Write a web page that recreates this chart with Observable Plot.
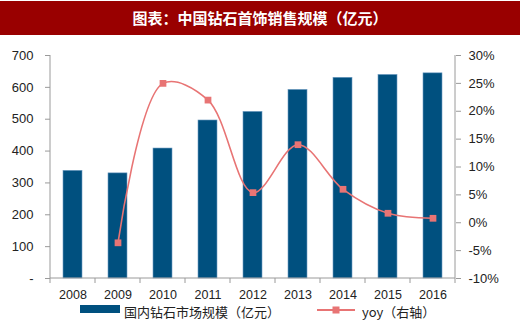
<!DOCTYPE html>
<html>
<head>
<meta charset="utf-8">
<script src="https://cdn.jsdelivr.net/npm/d3@7"></script>
<script src="https://cdn.jsdelivr.net/npm/@observablehq/plot@0.6"></script>
<style>
  html, body { margin: 0; padding: 0; background: #fff; }
  #wrap { position: relative; width: 520px; height: 325px; overflow: hidden; font-family: "Liberation Sans", Arial, sans-serif; }
  #title { position: absolute; left: 0; top: 1px; width: 520px; height: 34px; background: #990000; color: #fff;
           font-family: "Noto Sans CJK SC", sans-serif; font-weight: 700; font-size: 15px; line-height: 34px; text-align: center; }
  #chart { position: absolute; left: 0; top: 36px; }
  .leg { position: absolute; font-family: "Noto Sans CJK SC", sans-serif; font-size: 13px; color: #222; line-height: 14px; }
</style>
</head>
<body>
<div id="wrap">
  <div id="title">图表：中国钻石首饰销售规模（亿元）</div>
  <div id="chart"></div>
  <div id="legend"></div>
</div>
<script>
// ---- data ----
const years = ["2008","2009","2010","2011","2012","2013","2014","2015","2016"];
const marketSize = [338, 330, 408, 496, 523, 592, 630, 639, 644];
const yoyYears = ["2009","2010","2011","2012","2013","2014","2015","2016"];
const yoyValues = [-3.6, 25.0, 22.0, 5.4, 14.0, 6.0, 1.7, 0.8];
const leftTicks = [0, 100, 200, 300, 400, 500, 600, 700];
const rightTicks = [-10, -5, 0, 5, 10, 15, 20, 25, 30];
const seriesNames = ["国内钻石市场规模（亿元）", "yoy（右轴）"];

// ---- styles ----
const BAR = "#00507f";
const LINE = "#e87474";
const AXIS = "#9a9a9a";
const TEXT = "#222";

const leftMax = 700, rMin = -10, rMax = 30;
const toLeft = p => (p - rMin) / (rMax - rMin) * leftMax;

const bars = years.map((y, i) => ({year: y, value: marketSize[i]}));
const yoy = yoyYears.map((y, i) => ({year: y, value: yoyValues[i]}));

function axisFrame(index, scales, values, dimensions) {
  const {width, height, marginLeft, marginRight, marginTop, marginBottom} = dimensions;
  const x0 = marginLeft, x1 = width - marginRight, y0 = marginTop, y1 = height - marginBottom;
  const g = d3.create("svg:g").attr("stroke", AXIS).attr("stroke-width", 1).attr("fill", "none");
  g.append("line").attr("x1", x0).attr("x2", x0).attr("y1", y0).attr("y2", y1);
  g.append("line").attr("x1", x1).attr("x2", x1).attr("y1", y0).attr("y2", y1);
  g.append("line").attr("x1", x0).attr("x2", x1).attr("y1", y1).attr("y2", y1);
  const step = (x1 - x0) / years.length;
  d3.range(years.length + 1).forEach(i => {
    const xx = x0 + i * step;
    g.append("line").attr("x1", xx).attr("x2", xx).attr("y1", y1).attr("y2", y1 + 5);
  });
  return g.node();
}

const chart = Plot.plot({
  width: 520,
  height: 268,
  marginLeft: 50,
  marginRight: 65,
  marginTop: 19,
  marginBottom: 26,
  style: {fontFamily: "'Liberation Sans', Arial, sans-serif", fontSize: "13px", color: TEXT, background: "transparent"},
  x: {domain: years, paddingInner: 0.57, paddingOuter: 0.285, axis: null, label: null},
  y: {domain: [0, leftMax], axis: null, label: null},
  marks: [
    Plot.barY(bars, {x: "year", y: "value", fill: BAR, stroke: "#6f9cc2", strokeWidth: 0.6}),
    Plot.line(yoy, {x: "year", y: d => toLeft(d.value), curve: "catmull-rom", stroke: LINE, strokeWidth: 1.6}),
    Plot.dot(yoy, {x: "year", y: d => toLeft(d.value), symbol: "square", r: 3.8, fill: LINE, stroke: "none"}),
    axisFrame,
    Plot.axisY({anchor: "left", label: null, ticks: leftTicks, tickSize: 5, tickPadding: 12, stroke: AXIS,
      tickFormat: d => d === 0 ? "-" : String(d), fill: TEXT}),
    Plot.axisY({anchor: "right", label: null, ticks: rightTicks.map(toLeft), tickSize: 5, tickPadding: 8, stroke: AXIS,
      tickFormat: d => Math.round(d / leftMax * (rMax - rMin) + rMin) + "%", fill: TEXT}),
    Plot.axisX({anchor: "bottom", label: null, tickSize: 0, tickPadding: 12, fill: TEXT, fontSize: 12.5})
  ]
});
document.getElementById("chart").appendChild(chart);

// ---- legend ----
const legend = document.getElementById("legend");
legend.innerHTML = `
  <div style="position:absolute;left:80px;top:305px;width:40px;height:8px;background:${BAR}"></div>
  <div class="leg" style="left:124px;top:305px">${seriesNames[0]}</div>
  <svg style="position:absolute;left:316px;top:302px" width="40" height="16">
    <line x1="1" x2="39" y1="8" y2="8" stroke="${LINE}" stroke-width="2"/>
    <rect x="16.5" y="4.5" width="7" height="7" fill="${LINE}"/>
  </svg>
  <div class="leg" style="left:362px;top:305px">${seriesNames[1]}</div>
`;
</script>
</body>
</html>
